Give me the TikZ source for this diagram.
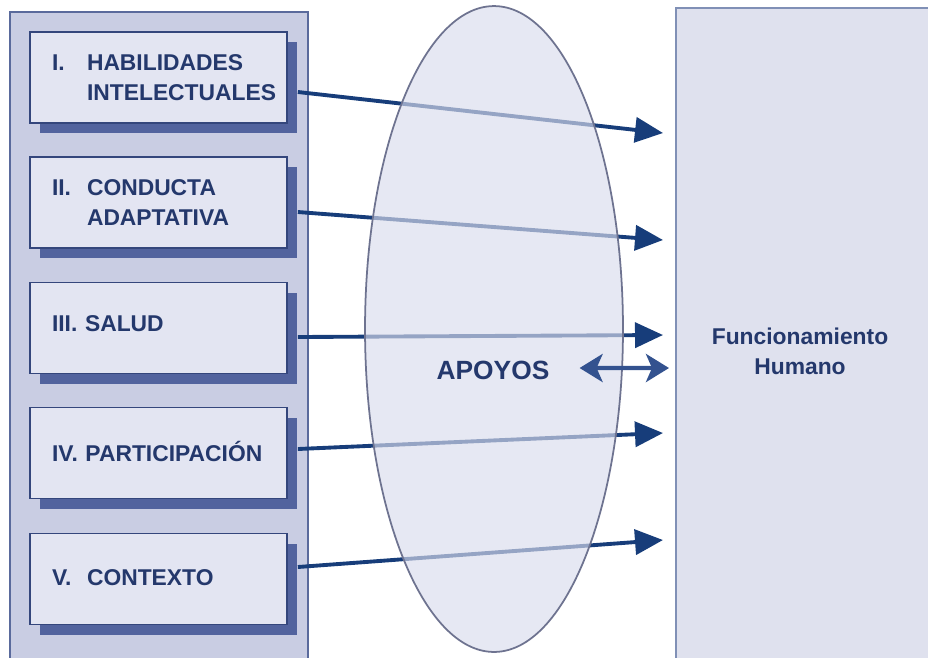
\documentclass[tikz,border=0pt]{standalone}
\usepackage{fontspec}
\setmainfont{Liberation Sans}
\usetikzlibrary{arrows.meta,shadows,positioning}
\definecolor{panel}{HTML}{C9CDE3}
\definecolor{paneledge}{HTML}{5A6A9C}
\definecolor{boxfill}{HTML}{E3E5F2}
\definecolor{boxedge}{HTML}{34467C}
\definecolor{shade}{HTML}{52639E}
\definecolor{ink}{HTML}{24386C}
\definecolor{arrowcol}{HTML}{173D7A}
\definecolor{twocol}{HTML}{33528F}
\definecolor{ovalfill}{HTML}{D9DCEC}
\definecolor{ovaledge}{HTML}{6E7390}
\definecolor{rightfill}{HTML}{DFE1EE}
\definecolor{rightedge}{HTML}{8090B6}
\begin{document}
\begin{tikzpicture}[x=0.02cm,y=-0.02cm,
    factor/.style={draw=boxedge,line width=1pt,fill=boxfill,
        minimum width=5.14cm,minimum height=1.82cm,text width=4.26cm,
        align=left,inner sep=0pt,text=ink,
        font=\bfseries\fontsize{13}{17}\selectfont,
        drop shadow={shadow xshift=0.2cm,shadow yshift=-0.2cm,fill=shade,opacity=1}},
    link/.style={draw=arrowcol,line width=2.2pt,-{Triangle[length=0.56cm,width=0.5cm]}},
    twoway/.style={draw=twocol,line width=2.4pt,
        {Stealth[length=0.46cm,width=0.56cm,inset=0.12cm]}-{Stealth[length=0.46cm,width=0.56cm,inset=0.12cm]}}]
    \useasboundingbox (0,0) rectangle (928,657);
    % left panel and right panel
    \draw[line width=1.2pt,draw=paneledge,fill=panel] (10,12) rectangle (308,680);
    \draw[line width=1.2pt,draw=rightedge,fill=rightfill] (676,8) rectangle (950,680);
    % the five dimensions
    \node[factor] (f1) at (158.5,77.5) {\makebox[0.7cm][l]{I.}HABILIDADES\\\hspace*{0.7cm}\mbox{INTELECTUALES}};
    \node[factor] (f2) at (158.5,202.5) {\makebox[0.7cm][l]{II.}CONDUCTA\\\hspace*{0.7cm}\mbox{ADAPTATIVA}};
    \node[factor] (f3) at (158.5,328) {\raisebox{0.18cm}{III. SALUD}};
    \node[factor] (f4) at (158.5,453) {\raisebox{0.08cm}{IV. PARTICIPACIÓN}};
    \node[factor] (f5) at (158.5,579) {\raisebox{0.06cm}{\makebox[0.7cm][l]{V.}CONTEXTO}};
    \coordinate (t1) at (663,133);
    \coordinate (t2) at (663,240);
    \coordinate (t3) at (663,335);
    \coordinate (t4) at (663,433);
    \coordinate (t5) at (663,540);
    \draw[link] ([xshift=0.2cm,yshift=-0.29cm]f1.east) -- (t1);
    \draw[link] ([xshift=0.2cm,yshift=-0.19cm]f2.east) -- (t2);
    \draw[link] ([xshift=0.2cm,yshift=-0.18cm]f3.east) -- (t3);
    \draw[link] ([xshift=0.2cm,yshift=0.08cm]f4.east) -- (t4);
    \draw[link] ([xshift=0.2cm,yshift=0.24cm]f5.east) -- (t5);
    % supports
    \fill[ovalfill,fill opacity=0.65] (494,329) ellipse [x radius=2.58cm,y radius=6.46cm];
    \draw[ovaledge,line width=1pt] (494,329) ellipse [x radius=2.58cm,y radius=6.46cm];
    \node[text=ink,font=\bfseries\fontsize{15}{18}\selectfont] (apoyos) at (493,370) {APOYOS};
    \coordinate (meet) at (669,368);
    \draw[twoway] ([xshift=0.48cm,yshift=0.04cm]apoyos.east) -- (meet);
    \node[text=ink,align=center,font=\bfseries\fontsize{13}{17}\selectfont] (fh) at (800,351) {Funcionamiento\\Humano};
\end{tikzpicture}
\end{document}
